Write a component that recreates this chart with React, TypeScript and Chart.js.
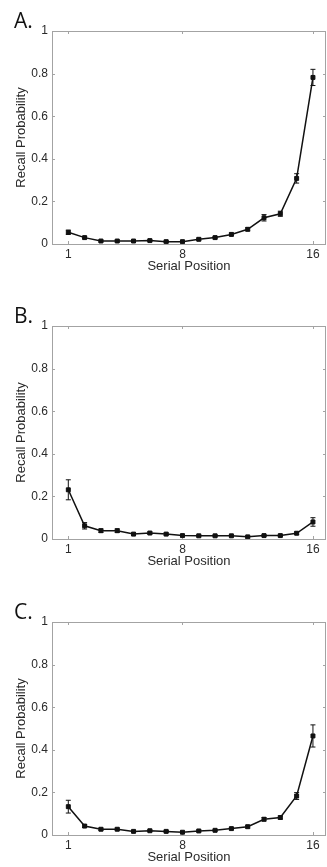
import React, { useEffect, useRef } from "react";
import { Chart, registerables } from "chart.js";

Chart.register(...registerables);

const positions = [1, 2, 3, 4, 5, 6, 7, 8, 9, 10, 11, 12, 13, 14, 15, 16];
const xTickValues = [1, 8, 16];
const panelLabels = ["A.", "B.", "C."];
const panelTops = [0, 295, 591];

const recallA = [0.055, 0.03, 0.014, 0.014, 0.014, 0.016, 0.011, 0.011, 0.022, 0.03, 0.045, 0.069, 0.123, 0.142, 0.308, 0.782];
const errA = [0.01, 0.005, 0.004, 0.004, 0.004, 0.004, 0.004, 0.004, 0.005, 0.005, 0.006, 0.007, 0.015, 0.012, 0.022, 0.038];

const recallB = [0.231, 0.062, 0.039, 0.039, 0.023, 0.028, 0.023, 0.016, 0.015, 0.015, 0.015, 0.01, 0.016, 0.016, 0.027, 0.08];
const errB = [0.047, 0.015, 0.008, 0.008, 0.005, 0.005, 0.005, 0.004, 0.004, 0.004, 0.004, 0.004, 0.004, 0.004, 0.006, 0.02];

const recallC = [0.133, 0.042, 0.027, 0.027, 0.017, 0.02, 0.017, 0.013, 0.019, 0.022, 0.03, 0.039, 0.074, 0.082, 0.183, 0.465];
const errC = [0.03, 0.007, 0.005, 0.005, 0.004, 0.004, 0.004, 0.004, 0.004, 0.004, 0.005, 0.006, 0.008, 0.007, 0.016, 0.052];

const series = [recallA, recallB, recallC];
const errors = [errA, errB, errC];

const AXIS_COLOR = "#a3a3a3";
const TEXT_COLOR = "#2a2a2a";
const FONT = "'Liberation Sans', Arial, Helvetica, sans-serif";

function Panel({ idx }: { idx: number }) {
  const ref = useRef<HTMLCanvasElement | null>(null);
  useEffect(() => {
    if (!ref.current) return;
    const values = series[idx];
    const errs = errors[idx];
    const label = panelLabels[idx];

    const decor = {
      id: "decor" + idx,
      beforeDatasetsDraw(chart: any) {
        const { ctx, chartArea: a, scales } = chart;
        const xs = scales.x;
        const ys = scales.y;
        ctx.save();
        ctx.strokeStyle = AXIS_COLOR;
        ctx.lineWidth = 1;
        ctx.strokeRect(Math.round(a.left) + 0.5, Math.round(a.top) + 0.5, Math.round(a.right - a.left) - 1, Math.round(a.bottom - a.top));
        // inward ticks
        const tl = 3;
        ctx.beginPath();
        for (const v of xTickValues) {
          const px = Math.round(xs.getPixelForValue(v)) + 0.5;
          ctx.moveTo(px, a.bottom);
          ctx.lineTo(px, a.bottom - tl);
          ctx.moveTo(px, a.top);
          ctx.lineTo(px, a.top + tl);
        }
        for (let v = 0; v <= 1.0001; v += 0.2) {
          const py = Math.round(ys.getPixelForValue(v)) + 0.5;
          ctx.moveTo(a.left, py);
          ctx.lineTo(a.left + tl, py);
          ctx.moveTo(a.right, py);
          ctx.lineTo(a.right - tl, py);
        }
        ctx.stroke();
        // error bars
        ctx.strokeStyle = "#111";
        ctx.lineWidth = 1;
        ctx.beginPath();
        positions.forEach((p, i) => {
          const px = xs.getPixelForValue(p);
          const top = ys.getPixelForValue(values[i] + errs[i]);
          const bot = ys.getPixelForValue(values[i] - errs[i]);
          ctx.moveTo(px, top);
          ctx.lineTo(px, bot);
          ctx.moveTo(px - 2.5, top);
          ctx.lineTo(px + 2.5, top);
          ctx.moveTo(px - 2.5, bot);
          ctx.lineTo(px + 2.5, bot);
        });
        ctx.stroke();
        // panel letter
        ctx.fillStyle = "#111";
        ctx.font = "21px 'Open Sans', 'Liberation Sans', sans-serif";
        ctx.textBaseline = "alphabetic";
        ctx.textAlign = "left";
        ctx.fillText(label, 14, 28);
        ctx.restore();
      },
    };

    const chart = new Chart(ref.current, {
      type: "line",
      data: {
        datasets: [
          {
            data: positions.map((p, i) => ({ x: p, y: values[i] })),
            borderColor: "#111",
            backgroundColor: "#111",
            borderWidth: 1.5,
            pointStyle: "rect",
            pointRadius: 2.8,
            pointBorderWidth: 1,
            tension: 0,
          },
        ],
      },
      options: {
        responsive: false,
        animation: false,
        devicePixelRatio: 1,
        layout: { autoPadding: false, padding: { top: 31, right: 1, left: 0, bottom: 0 } },
        plugins: { legend: { display: false }, tooltip: { enabled: false } },
        scales: {
          x: {
            type: "linear",
            min: 0,
            max: 16.8,
            grid: { display: false, drawTicks: false },
            border: { display: false },
            afterBuildTicks: (s: any) => {
              s.ticks = xTickValues.map((v) => ({ value: v }));
            },
            afterFit: (s: any) => {
              s.height = 51;
              s.paddingLeft = 0;
              s.paddingRight = 0;
            },
            ticks: {
              padding: 3,
              color: TEXT_COLOR,
              font: { family: FONT, size: 12 },
              maxRotation: 0,
              autoSkip: false,
              callback: (v: any) => String(v),
            },
            title: {
              display: true,
              text: "Serial Position",
              color: TEXT_COLOR,
              font: { family: FONT, size: 13 },
              padding: { top: 0, bottom: 21 },
            },
          },
          y: {
            min: 0,
            max: 1,
            grid: { display: false, drawTicks: false },
            border: { display: false },
            afterFit: (s: any) => {
              s.width = 52;
              s.paddingTop = 0;
              s.paddingBottom = 0;
            },
            ticks: {
              stepSize: 0.2,
              padding: 4,
              color: TEXT_COLOR,
              font: { family: FONT, size: 12 },
              callback: (v: any) => String(Number(Number(v).toFixed(1))),
            },
            title: {
              display: true,
              text: "Recall Probability",
              color: TEXT_COLOR,
              font: { family: FONT, size: 13 },
              padding: { top: 14, bottom: 0 },
            },
          },
        },
      },
      plugins: [decor],
    });
    return () => chart.destroy();
  }, [idx]);

  return (
    <div style={{ position: "absolute", left: 0, top: panelTops[idx], width: 327, height: 295 }}>
      <canvas ref={ref} width={327} height={295} style={{ display: "block" }} />
    </div>
  );
}

export default function App() {
  return (
    <div style={{ position: "absolute", left: 0, top: 0, width: 327, height: 867, overflow: "hidden", background: "#fff" }}>
      <Panel idx={0} />
      <Panel idx={1} />
      <Panel idx={2} />
    </div>
  );
}
